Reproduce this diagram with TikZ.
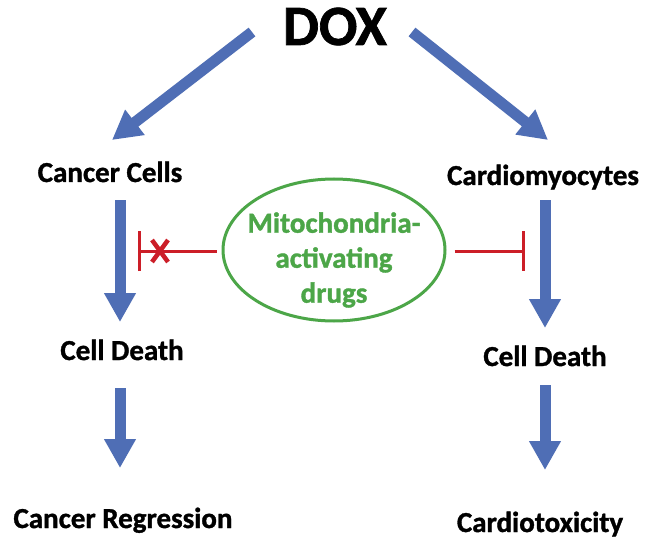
\documentclass[tikz,border=0pt]{standalone}
\usepackage{fontspec}
\setmainfont{Carlito}[BoldFeatures={FakeBold=1.2}]
\usetikzlibrary{arrows.meta,calc,shapes.geometric}
\definecolor{arrblue}{RGB}{79,110,181}
\definecolor{drgreen}{RGB}{76,166,72}
\definecolor{inhred}{RGB}{204,30,40}
\tikzset{
  lbl/.style={anchor=base,inner sep=0pt,font=\bfseries\fontsize{29}{34}\selectfont},
  barrow/.style={draw=arrblue,line width=11pt,-{Triangle[width=30pt,length=29pt,fill=arrblue]}},
  inhib/.style={draw=inhred,line width=3pt,-{Bar[width=40pt,line width=3pt]}},
  drugbox/.style={ellipse,draw=drgreen,line width=3pt,minimum width=222pt,minimum height=142pt,inner sep=0pt},
  drugtext/.style={inner sep=0pt,align=center,text=drgreen,font=\bfseries\fontsize{29}{35}\selectfont}
}
\begin{document}
\begin{tikzpicture}[x=1pt,y=-1pt]
\path[use as bounding box,fill=white] (0,0) rectangle (649,543);
\node[lbl,font=\bfseries\fontsize{57}{60}\selectfont] (dox) at (335,45) {DOX};
\node[lbl] (cc) at (110,182) {Cancer Cells};
\node[lbl] (cm) at (543,185) {Cardiomyocytes};
\node[lbl] (cdl) at (122,360) {Cell Death};
\node[lbl] (cdr) at (545,366) {Cell Death};
\node[lbl] (cr) at (123,528) {Cancer Regression};
\node[lbl] (ct) at (540,532) {Cardiotoxicity};
\node[drugbox] (drug) at (334,250) {};
\node[drugtext] (drugt) at ($(drug.center)+(0,10)$) {Mitochondria-\\activating\\drugs};
\draw[barrow] ($(dox.base)+(-83,-13)$) -- ($(cc.base)+(2,-42)$);
\draw[barrow] ($(dox.base)+(77,-13)$) -- ($(cm.base)+(5,-45)$);
\draw[barrow] ($(cc.base)+(10,18)$) -- ($(cdl.base)+(-2,-38)$);
\draw[barrow] ($(cm.base)+(2,15)$) -- ($(cdr.base)+(0,-38)$);
\draw[barrow] ($(cdl.base)+(-2,28)$) -- ($(cr.base)+(-3,-60)$);
\draw[barrow] ($(cdr.base)+(0,19)$) -- ($(ct.base)+(5,-62)$);
\coordinate (inhL) at (138,251);
\coordinate (inhR) at (525,251);
\draw[inhib] ($(drug.west)+(-5,1)$) -- (inhL);
\draw[inhib] ($(drug.east)+(8,1)$) -- (inhR);
\draw[draw=inhred,line width=4.5pt] (152,240) -- (168,262) (152,262) -- (168,240);
\end{tikzpicture}
\end{document}
